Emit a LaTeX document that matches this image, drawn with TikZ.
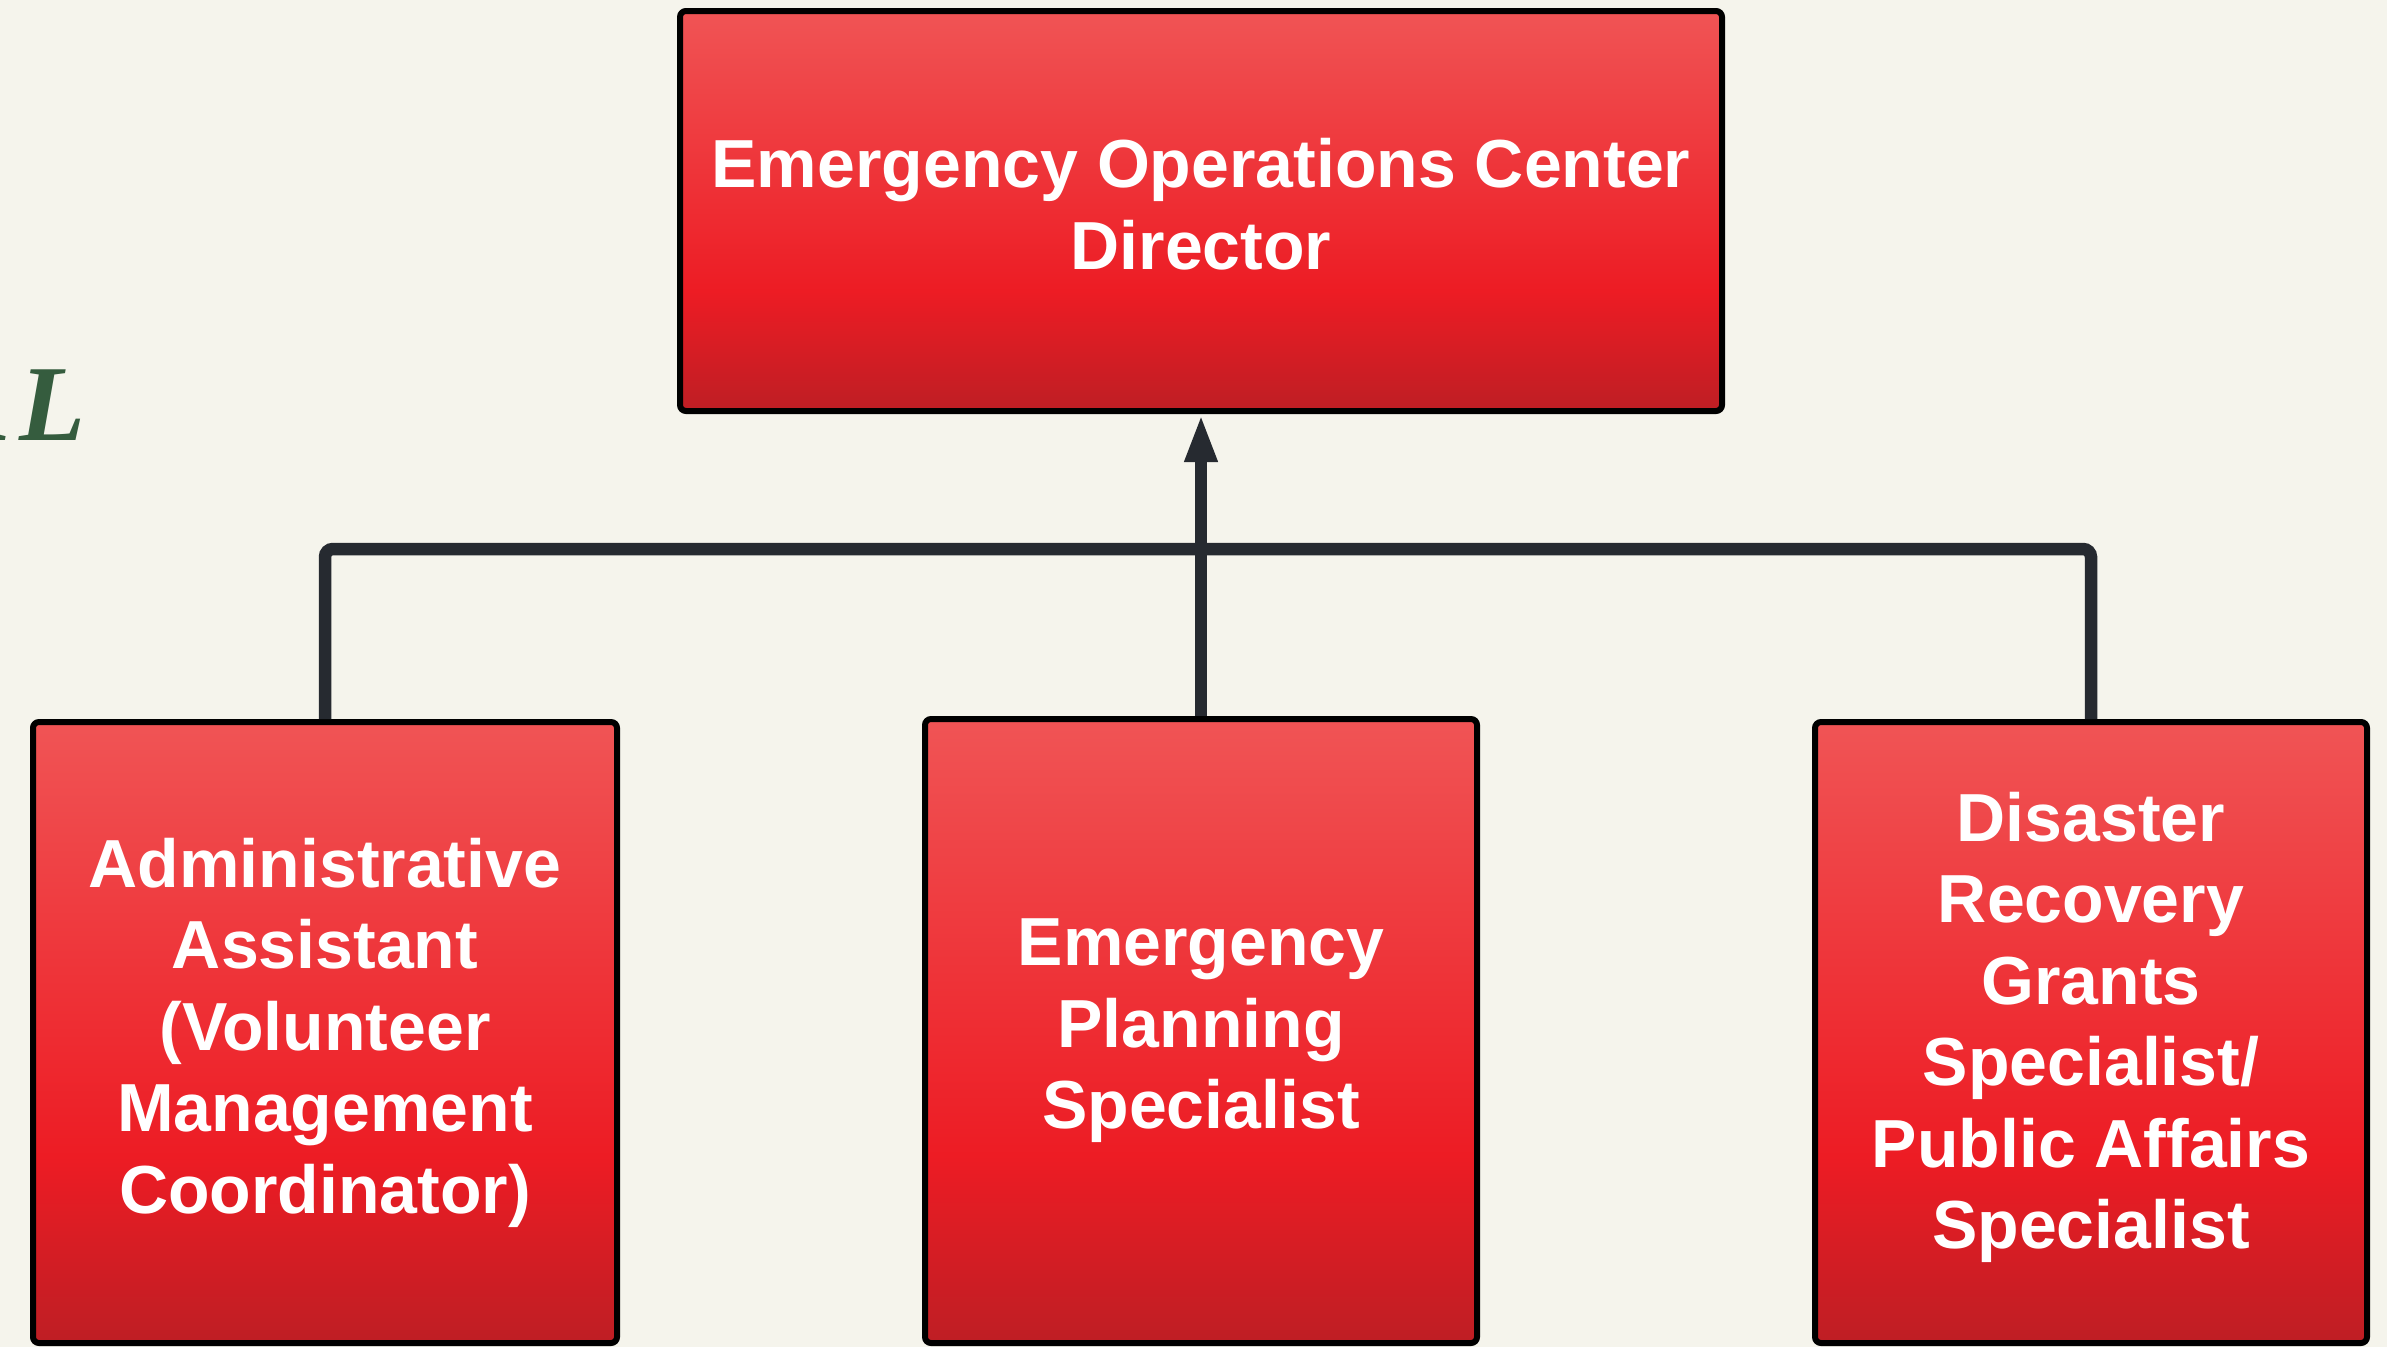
\documentclass[tikz,border=0pt]{standalone}
\usepackage{fontspec}
\setmainfont{Liberation Sans}
\newfontfamily\titlefont{Liberation Serif}
\usetikzlibrary{arrows.meta}
\definecolor{bg}{RGB}{245,244,236}
\definecolor{rtop}{RGB}{240,84,85}
\definecolor{rmid}{RGB}{237,28,36}
\definecolor{rbot}{RGB}{190,30,36}
\definecolor{conncol}{RGB}{38,42,48}
\definecolor{titlegreen}{RGB}{53,92,62}
\pgfdeclareverticalshading{redgrad}{100bp}{color(0bp)=(rbot); color(25bp)=(rbot); color(40bp)=(rmid); color(75bp)=(rtop); color(100bp)=(rtop)}
\begin{document}
\begin{tikzpicture}[x=1pt,y=-1pt,
  box/.style={draw=black, line width=6pt, rounded corners=6pt, shading=redgrad,
    text=white, font=\bfseries\fontsize{68}{81.5}\selectfont, align=center, inner sep=0pt},
  boxtext/.style={text=white, font=\bfseries\fontsize{68}{81.5}\selectfont, align=center, inner sep=0pt},
  conn/.style={draw=conncol, line width=12.5pt},
]
\fill[bg] (0,0) rectangle (2387,1347);
\useasboundingbox (0,0) rectangle (2387,1347);

\node[font=\titlefont\bfseries\itshape\fontsize{108}{120}\selectfont, text=titlegreen,
  anchor=base east, inner sep=0pt] (ttl) at (86,440) {A\kern9pt L};

\node[box, minimum width=1042pt, minimum height=400pt] (eoc) at (1201,211) {};
\node[boxtext] (eoctxt) at ([yshift=7pt]eoc.center) {Emergency Operations Center\\Director};

\node[box, minimum width=584pt, minimum height=621pt] (adm) at (325,1032.5)
  {Administrative\\Assistant\\(Volunteer\\Management\\Coordinator)};
\node[box, minimum width=552pt, minimum height=624pt] (eps) at (1201,1031)
  {Emergency\\Planning\\Specialist};
\node[box, minimum width=552pt, minimum height=621pt] (drg) at (2091,1032.5) {};
\node[boxtext] (drgtxt) at ([yshift=5pt]drg.center)
  {Disaster\\Recovery\\Grants\\Specialist/\\Public Affairs\\Specialist};

\coordinate (junc) at (1201,549);
\draw[conn, rounded corners=8pt] (adm.north) |- (junc);
\draw[conn, rounded corners=8pt] (drg.north) |- (junc);
\draw[conn, -{Triangle[length=48pt,width=30pt]}] (eps.north) -- (eoc.south);
\end{tikzpicture}
\end{document}
